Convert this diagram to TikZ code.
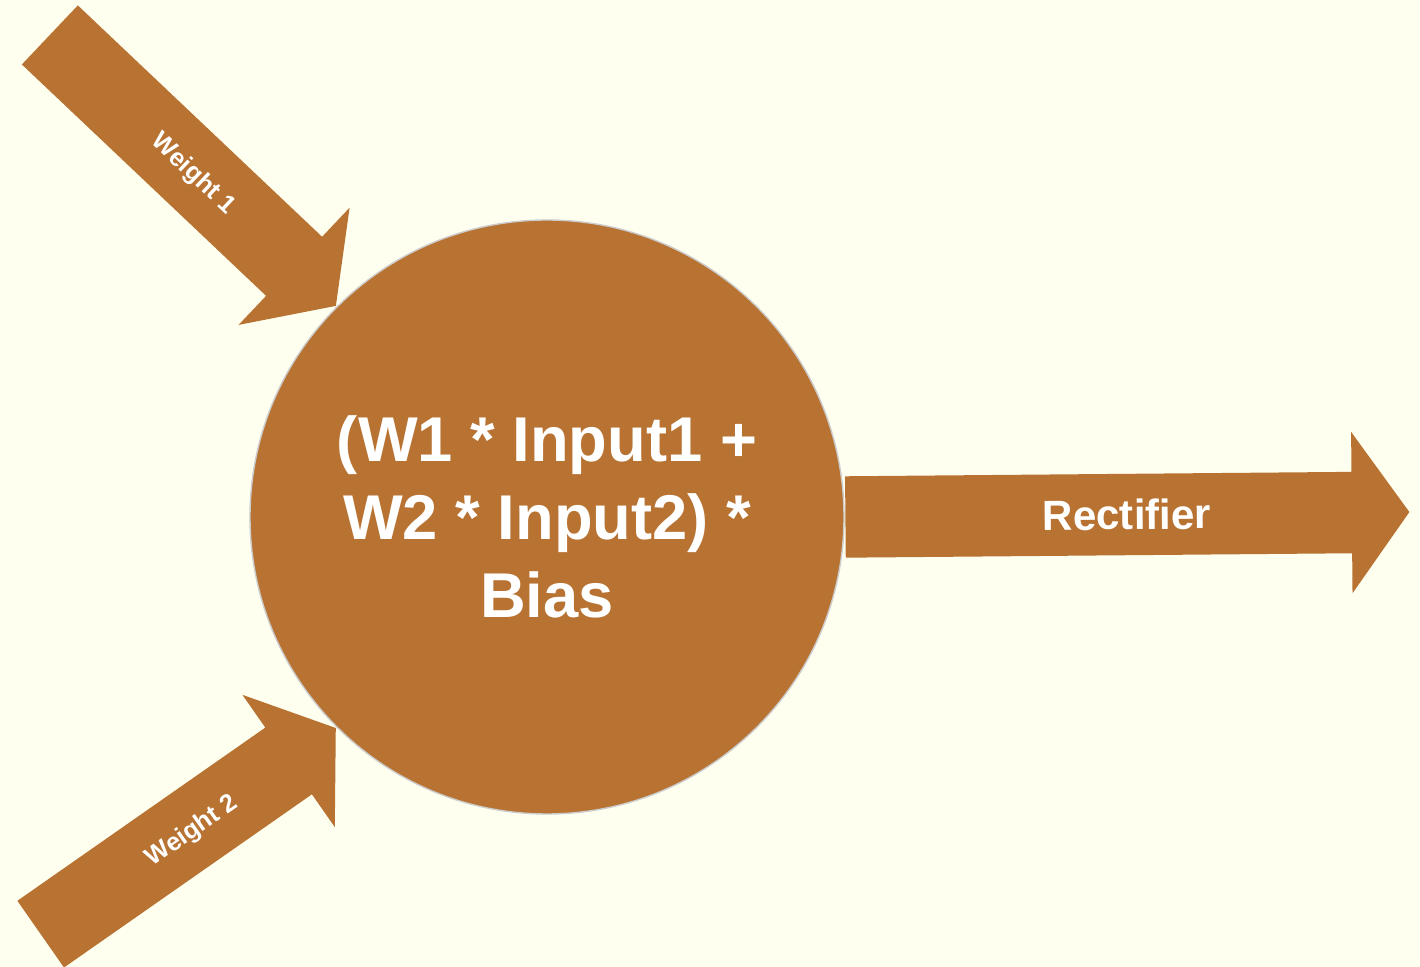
\documentclass[tikz,border=0pt]{standalone}
\usepackage{fontspec}
\setmainfont{Liberation Sans}
\usetikzlibrary{shapes.arrows}
\definecolor{copper}{HTML}{B87333}
\definecolor{paper}{HTML}{FFFFF0}
\tikzset{
	blockarrow/.style={single arrow, fill=copper, text=white, inner sep=0pt, minimum width=1.6cm, single arrow head extend=0.4cm, single arrow tip angle=109},
	weightfont/.style={font=\bfseries\fontsize{7.2}{8}\selectfont, text height=0.49cm, text depth=0.31cm},
	outfont/.style={font=\bfseries\fontsize{12}{14}\selectfont, text height=0.55cm, text depth=0.25cm}
}
\begin{document}
\begin{tikzpicture}
	\fill[paper] (0,0) rectangle (14.2,9.67);
	\useasboundingbox (0,0) rectangle (14.2,9.67);
	\node[circle, fill=copper, draw=black!20, minimum size=5.94cm, text=white, align=center, font=\bfseries\fontsize{18}{22.2}\selectfont] (neuron) at (5.47,4.50) {(W1 * Input1 +\\W2 * Input2) *\\Bias};
	\node[blockarrow, weightfont, minimum height=3.94cm, rotate=-43.45, anchor=tip] (weight1) at (neuron.135) {\hspace*{0.35cm}Weight 1};
	\node[blockarrow, weightfont, minimum height=3.6cm, rotate=34.94, anchor=tip] (weight2) at (neuron.225) {\hspace*{0.35cm}Weight 2};
	\node[blockarrow, outfont, minimum height=5.64cm, rotate=0.5, anchor=tail] (rectifier) at (neuron.east) {\hspace*{0.28cm}Rectifier};
\end{tikzpicture}
\end{document}
